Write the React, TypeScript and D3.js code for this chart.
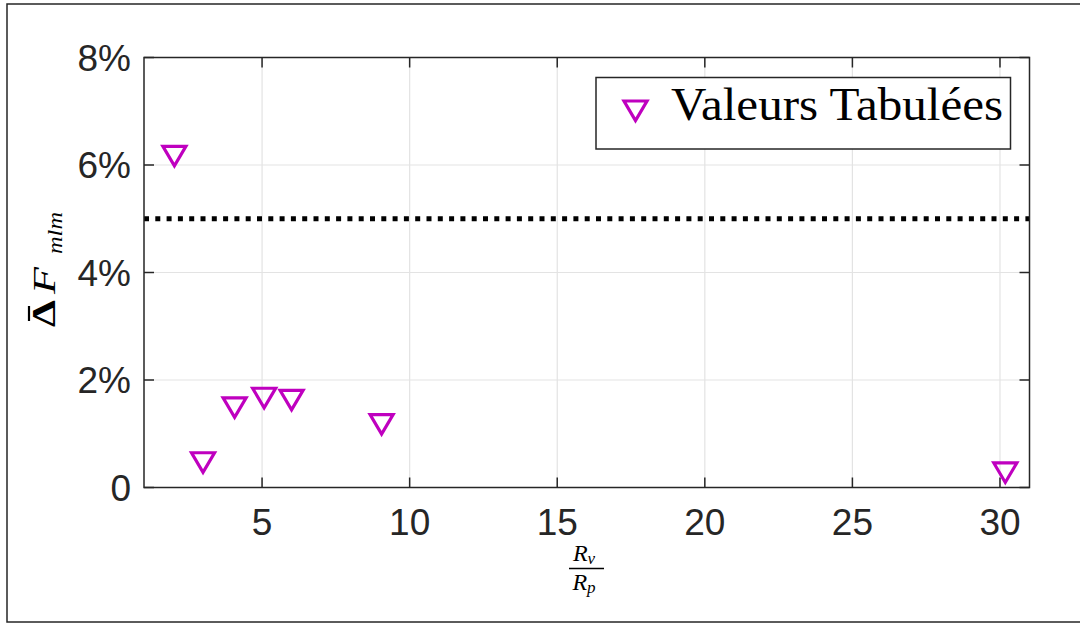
import React from "react";
import * as d3 from "d3";

const rvRp = [2.03, 3.0, 4.07, 5.07, 6.0, 9.05, 30.18];
const deltaF = [6.17, 0.47, 1.49, 1.67, 1.63, 1.18, 0.28];
const xTicks = [5, 10, 15, 20, 25, 30];
const yTicks = [0, 2, 4, 6, 8];
const yTickLabels = ["0", "2%", "4%", "6%", "8%"];
const thresholdValue = 5;
const legendLabel = "Valeurs Tabulées";

const W = 1080;
const H = 624;
const left = 144;
const right = 1029.5;
const top = 57.5;
const bottom = 487.5;

const MAG = "#bf00bf";
const AX = "#262626";

const tri = "M-11.5,-9.5 L11.5,-9.5 L0,10 Z";

export default function App() {
  const x = d3.scaleLinear().domain([1, 31]).range([left, right]);
  const y = d3.scaleLinear().domain([0, 8]).range([bottom, top]);
  const tickLen = 10;

  return (
    <svg
      width={W}
      height={H}
      style={{ position: "absolute", left: 0, top: 0, background: "#fff" }}
      fontFamily="'Liberation Sans', Arial, sans-serif"
    >
      <rect x={0} y={0} width={W} height={H} fill="#fff" />
      {/* figure border */}
      <rect x={7} y={4} width={1100} height={618} fill="none" stroke={AX} strokeWidth={1.5} />

      {/* grid */}
      {xTicks.map((t) => (
        <line key={"gx" + t} x1={x(t)} x2={x(t)} y1={top} y2={bottom} stroke="#e3e3e3" strokeWidth={1.2} />
      ))}
      {yTicks.map((t) => (
        <line key={"gy" + t} x1={left} x2={right} y1={y(t)} y2={y(t)} stroke="#e3e3e3" strokeWidth={1.2} />
      ))}

      {/* threshold dotted line */}
      <line
        x1={x(1)}
        x2={x(31)}
        y1={y(thresholdValue)}
        y2={y(thresholdValue)}
        stroke="#000"
        strokeWidth={4.8}
        strokeDasharray="5 6.3"
      />

      {/* ticks */}
      {xTicks.map((t) => (
        <g key={"tx" + t}>
          <line x1={x(t)} x2={x(t)} y1={bottom} y2={bottom - tickLen} stroke={AX} strokeWidth={1.5} />
          <line x1={x(t)} x2={x(t)} y1={top} y2={top + tickLen} stroke={AX} strokeWidth={1.5} />
          <text x={x(t)} y={bottom + 47} textAnchor="middle" fontSize={37} fill={AX}>
            {t}
          </text>
        </g>
      ))}
      {yTicks.map((t, i) => (
        <g key={"ty" + t}>
          <line x1={left} x2={left + tickLen} y1={y(t)} y2={y(t)} stroke={AX} strokeWidth={1.5} />
          <line x1={right} x2={right - tickLen} y1={y(t)} y2={y(t)} stroke={AX} strokeWidth={1.5} />
          <text x={131} y={y(t) + 13} textAnchor="end" fontSize={37} fill={AX}>
            {yTickLabels[i]}
          </text>
        </g>
      ))}

      {/* axes box */}
      <rect x={left} y={top} width={right - left} height={bottom - top} fill="none" stroke={AX} strokeWidth={1.5} />

      {/* data markers */}
      {rvRp.map((v, i) => (
        <path
          key={"m" + i}
          d={tri}
          transform={`translate(${x(v)},${y(deltaF[i])})`}
          fill="none"
          stroke={MAG}
          strokeWidth={3.2}
          strokeLinejoin="miter"
        />
      ))}

      {/* legend */}
      <rect x={596} y={77.5} width={414.5} height={71.5} fill="#fff" stroke={AX} strokeWidth={1.5} />
      <path d={tri} transform="translate(635.5,110.5)" fill="none" stroke={MAG} strokeWidth={3.2} />
      <text
        x={671}
        y={120}
        fontFamily="'Liberation Serif', 'Times New Roman', serif"
        fontSize={46}
        textLength={332}
        lengthAdjust="spacingAndGlyphs"
        fill="#000"
      >
        {legendLabel}
      </text>

      {/* y label (rotated) */}
      <g transform="translate(55,0) rotate(-90)" fontFamily="'Liberation Serif', 'Times New Roman', serif" fill="#000">
        <text x={-327} y={0} fontSize={34} fontWeight="bold" textLength={27} lengthAdjust="spacingAndGlyphs">
          Δ
        </text>
        <line x1={-321} x2={-306} y1={-26} y2={-26} stroke="#000" strokeWidth={2.2} />
        <text x={-294} y={0} fontSize={32} fontStyle="italic" textLength={27} lengthAdjust="spacingAndGlyphs">
          F
        </text>
        <text x={-254} y={7} fontSize={22} fontStyle="italic" textLength={42} lengthAdjust="spacingAndGlyphs">
          mlm
        </text>
      </g>

      {/* x label (fraction) */}
      <g fontFamily="'Liberation Serif', 'Times New Roman', serif" fill="#000" textAnchor="middle">
        <text x={584} y={561} fontSize={24} fontStyle="italic">
          R
          <tspan fontSize={17} dy={3}>v</tspan>
        </text>
        <line x1={569} x2={604} y1={568.5} y2={568.5} stroke="#000" strokeWidth={1.6} />
        <text x={584} y={590} fontSize={24} fontStyle="italic">
          R
          <tspan fontSize={17} dy={3}>p</tspan>
        </text>
      </g>
    </svg>
  );
}
